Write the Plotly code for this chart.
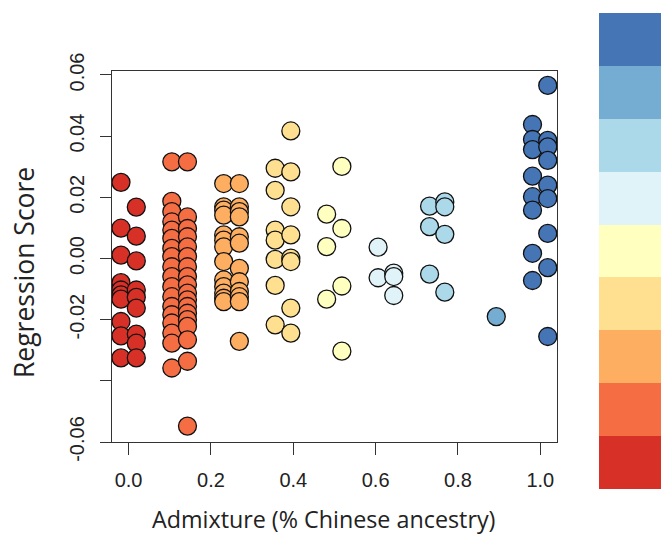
import plotly.graph_objects as go

# Palette (RdYlBu, 9 classes), low admixture -> high admixture
palette = ["#D73027", "#F46D43", "#FDAE61", "#FEE090", "#FFFFBF",
           "#E0F3F8", "#ABD9E9", "#74ADD1", "#4575B4"]

# Each group: admixture value of each column and regression scores in it
red_cols = [-0.0185, 0.0187]
red_scores = [
    [0.0249, 0.0099, 0.0011, -0.0079, -0.0103, -0.0119, -0.0133, -0.0206, -0.0253, -0.0325],
    [0.0168, 0.0073, -0.0008, -0.0103, -0.0127, -0.0162, -0.0247, -0.0277, -0.0325],
]
orange_cols = [0.105, 0.143]
orange_scores = [
    [0.0316, 0.0187, 0.0153, 0.0120, 0.0093, 0.0066, 0.0033, 0.0006, -0.0027, -0.0059,
     -0.0092, -0.0125, -0.0157, -0.0184, -0.0211, -0.0244, -0.0277, -0.0358],
    [0.0316, 0.0136, 0.0098, 0.0071, 0.0038, 0.0006, -0.0027, -0.0059, -0.0086, -0.0113,
     -0.0135, -0.0157, -0.0179, -0.0200, -0.0222, -0.0266, -0.0336, -0.0548],
]
ltorange_cols = [0.231, 0.269]
ltorange_scores = [
    [0.0245, 0.0169, 0.0158, 0.0142, 0.0077, 0.0060, 0.0038, -0.0010, -0.0070, -0.0092,
     -0.0113, -0.0130, -0.0141],
    [0.0245, 0.0169, 0.0153, 0.0136, 0.0071, 0.0050, -0.0032, -0.0076, -0.0108, -0.0125,
     -0.0141, -0.0271],
]
yellow_cols = [0.356, 0.394]
yellow_scores = [
    [0.0295, 0.0223, 0.0093, 0.0060, -0.0003, -0.0088, -0.0217],
    [0.0417, 0.0283, 0.0169, 0.0077, 0.0001, -0.0010, -0.0162, -0.0244],
]
paleyellow_cols = [0.481, 0.518]
paleyellow_scores = [
    [0.0145, 0.0039, -0.0133],
    [0.0301, 0.0098, -0.0090, -0.0303],
]
ltblue_cols = [0.606, 0.644]
ltblue_scores = [
    [0.0037, -0.0063],
    [-0.0048, -0.0059, -0.0121],
]
blue_cols = [0.731, 0.768]
blue_scores = [
    [0.0171, 0.0104, -0.0051],
    [0.0185, 0.0169, 0.0079, -0.0110],
]
midblue_cols = [0.893]
midblue_scores = [[-0.0190]]
darkblue_cols = [0.981, 1.018]
darkblue_scores = [
    [0.0438, 0.0389, 0.0356, 0.0269, 0.0202, 0.0158, 0.0017, -0.0072],
    [0.0566, 0.0386, 0.0365, 0.0321, 0.0240, 0.0196, 0.0082, -0.0030, -0.0255],
]

groups = [
    (red_cols, red_scores),
    (orange_cols, orange_scores),
    (ltorange_cols, ltorange_scores),
    (yellow_cols, yellow_scores),
    (paleyellow_cols, paleyellow_scores),
    (ltblue_cols, ltblue_scores),
    (blue_cols, blue_scores),
    (midblue_cols, midblue_scores),
    (darkblue_cols, darkblue_scores),
]

x_ticks = [0.0, 0.2, 0.4, 0.6, 0.8, 1.0]
x_ticktext = ["0.0", "0.2", "0.4", "0.6", "0.8", "1.0"]
y_ticks = [-0.06, -0.04, -0.02, 0.0, 0.02, 0.04, 0.06]
y_ticktext = ["-0.06", "", "-0.02", "0.00", "0.02", "0.04", "0.06"]

legend_blocks = [1] * 9

W, H = 661, 538
fig = go.Figure()

for color, (cols, scores) in zip(palette, groups):
    xs, ys = [], []
    for cx, col in zip(cols, scores):
        xs += [cx] * len(col)
        ys += col
    fig.add_trace(go.Scatter(
        x=xs, y=ys, mode="markers", showlegend=False,
        marker=dict(size=18, color=color, line=dict(color="#111111", width=1.3)),
        xaxis="x", yaxis="y"))

# colour key on the right
for color, h in zip(palette, legend_blocks):
    fig.add_trace(go.Bar(x=[0], y=[h], marker=dict(color=color, line=dict(width=0)),
                         showlegend=False, xaxis="x2", yaxis="y2", width=1))

box_l, box_r, box_t, box_b = 112, 557, 71, 442
leg_l, leg_t, leg_b = 599, 13, 489

axis_common = dict(showgrid=False, zeroline=False, showline=True, mirror=True,
                   automargin=False,
                   linecolor="#333333", linewidth=1, ticks="outside",
                   tickcolor="#333333", tickwidth=1,
                   tickfont=dict(family="Liberation Sans, Arial", size=20, color="#222222"))

fig.update_layout(
    template="none",
    width=W, height=H,
    margin=dict(l=0, r=0, t=0, b=0, pad=0),
    paper_bgcolor="white", plot_bgcolor="white",
    barmode="stack", bargap=0,
    xaxis=dict(domain=[box_l / W, box_r / W], range=[-0.0403, 1.0405],
               tickvals=x_ticks, ticktext=x_ticktext, ticklen=12,
               ticklabelstandoff=8, **axis_common),
    yaxis=dict(domain=[(H - box_b) / H, (H - box_t) / H], range=[-0.06, 0.0613],
               tickvals=y_ticks, ticktext=y_ticktext, ticklen=11, tickangle=-90,
               ticklabelstandoff=8, **axis_common),
    xaxis2=dict(domain=[leg_l / W, 1.0], range=[-0.5, 0.5], visible=False,
                anchor="y2", fixedrange=True, automargin=False),
    yaxis2=dict(domain=[(H - leg_b) / H, (H - leg_t) / H], range=[0, 9], visible=False,
                anchor="x2", fixedrange=True, automargin=False),
    annotations=[
        dict(text="Regression Score", x=24 / W, y=(H - 273) / H, xref="paper", yref="paper",
             showarrow=False, textangle=-90, xanchor="center", yanchor="middle",
             font=dict(family="Open Sans", size=26.5, color="#222222")),
        dict(text="Admixture (% Chinese ancestry)", x=323 / W, y=(H - 519) / H,
             xref="paper", yref="paper", showarrow=False,
             xanchor="center", yanchor="middle",
             font=dict(family="Open Sans", size=23.3, color="#222222")),
    ],
)

fig.write_html("out.html", config={"displayModeBar": False},
               post_script="document.body.style.margin='0';")
